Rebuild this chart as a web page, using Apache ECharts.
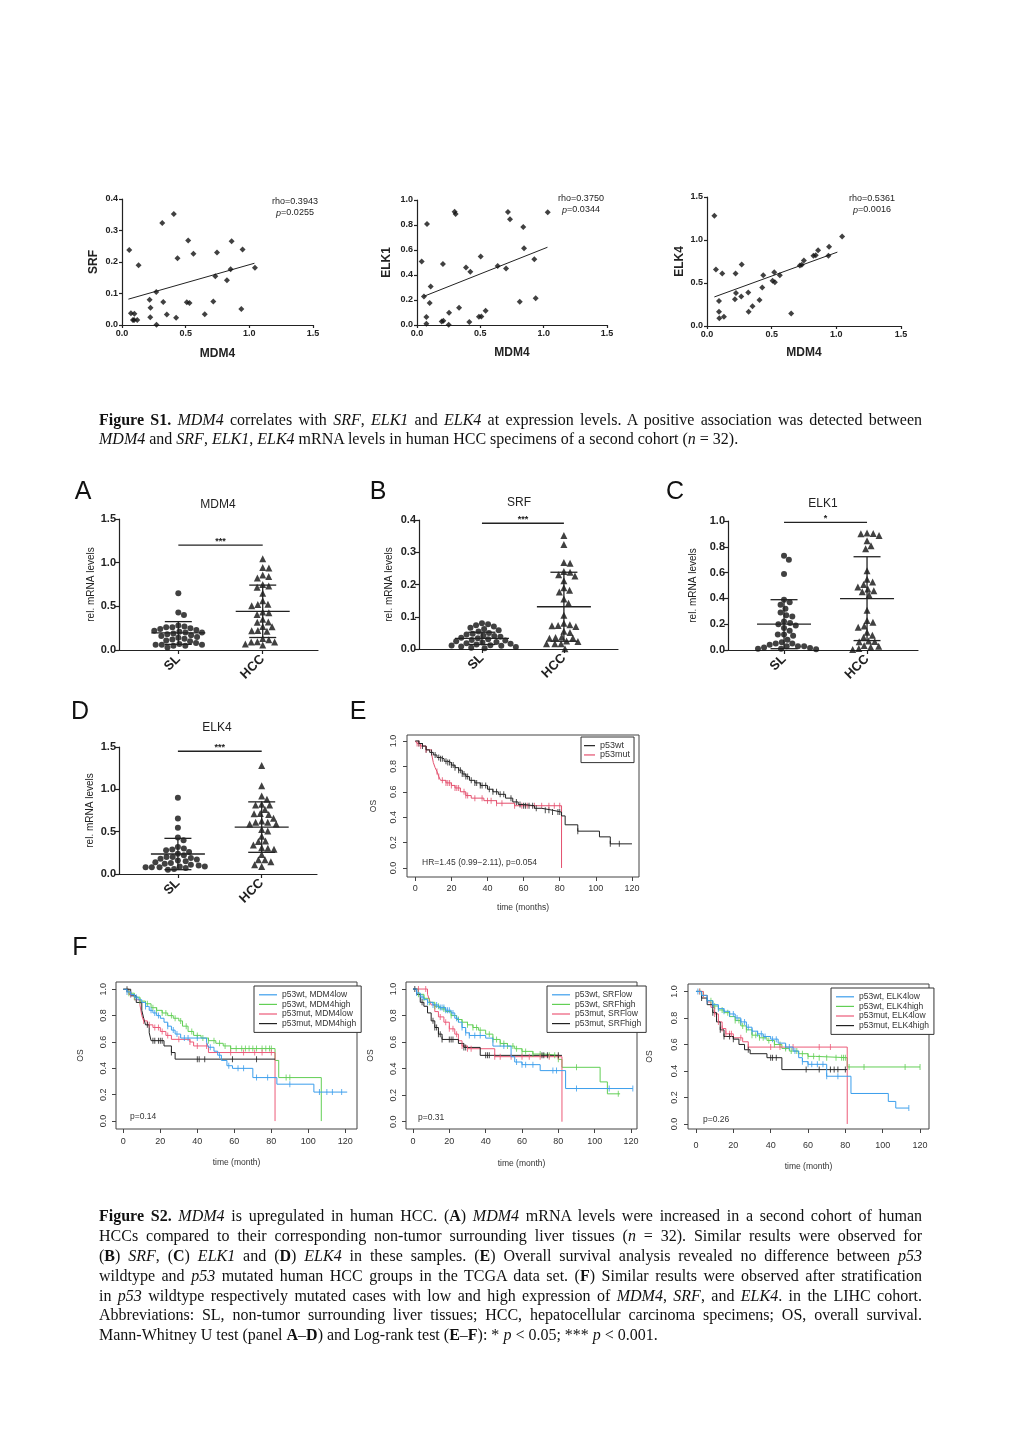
<!DOCTYPE html>
<html><head><meta charset="utf-8">
<script src="https://cdn.jsdelivr.net/npm/echarts@6/dist/echarts.min.js"></script>
<style>
html,body{margin:0;padding:0;background:#fff;}
#chart{position:absolute;left:0;top:0;width:1020px;height:1442px;}
.cap{position:absolute;left:99px;width:823px;font-family:"Liberation Serif","Times New Roman",serif;font-size:16px;color:#111;white-space:nowrap;text-align:justify;text-align-last:justify;line-height:18px;}
.cap.last{text-align-last:left;}
</style></head><body>
<div id="chart"></div>
<div class="cap" style="top:411px"><b>Figure S1.</b> <i>MDM4</i> correlates with <i>SRF</i>, <i>ELK1</i> and <i>ELK4</i> at expression levels. A positive association was detected between</div>
<div class="cap last" style="top:430px"><i>MDM4</i> and <i>SRF</i>, <i>ELK1</i>, <i>ELK4</i> mRNA levels in human HCC specimens of a second cohort (<i>n</i> = 32).</div>
<div class="cap" style="top:1207px"><b>Figure S2.</b> <i>MDM4</i> is upregulated in human HCC. (<b>A</b>) <i>MDM4</i> mRNA levels were increased in a second cohort of human</div>
<div class="cap" style="top:1227px">HCCs compared to their corresponding non-tumor surrounding liver tissues (<i>n</i> = 32). Similar results were observed for</div>
<div class="cap" style="top:1247px">(<b>B</b>) <i>SRF</i>, (<b>C</b>) <i>ELK1</i> and (<b>D</b>) <i>ELK4</i> in these samples. (<b>E</b>) Overall survival analysis revealed no difference between <i>p53</i></div>
<div class="cap" style="top:1267px">wildtype and <i>p53</i> mutated human HCC groups in the TCGA data set. (<b>F</b>) Similar results were observed after stratification</div>
<div class="cap" style="top:1287px">in <i>p53</i> wildtype respectively mutated cases with low and high expression of <i>MDM4</i>, <i>SRF</i>, and <i>ELK4</i>. in the LIHC cohort.</div>
<div class="cap" style="top:1306px">Abbreviations: SL, non-tumor surrounding liver tissues; HCC, hepatocellular carcinoma specimens; OS, overall survival.</div>
<div class="cap last" style="top:1326px">Mann-Whitney U test (panel <b>A</b>–<b>D</b>) and Log-rank test (<b>E</b>–<b>F</b>): * <i>p</i> &lt; 0.05; *** <i>p</i> &lt; 0.001.</div>
<script>
// ================= DATA =================
// Figure S1 scatter (HCC specimens): MDM4 (x) vs SRF / ELK1 / ELK4 (y)
const srfX = [0.057,0.13,0.316,0.407,0.52,0.436,0.561,0.746,0.861,0.947,1.044,0.853,0.733,0.824,0.269,0.217,0.324,0.509,0.53,0.717,0.224,0.07,0.097,0.086,0.12,0.222,0.352,0.425,0.65,0.937,0.271,0.095];
const srfY = [0.238,0.19,0.324,0.352,0.268,0.212,0.226,0.230,0.266,0.240,0.182,0.177,0.155,0.142,0.105,0.080,0.073,0.072,0.070,0.075,0.055,0.037,0.036,0.016,0.016,0.025,0.033,0.023,0.034,0.051,0.001,0.016];
const elk1X = [0.037,0.079,0.055,0.108,0.1,0.074,0.074,0.205,0.195,0.208,0.253,0.25,0.297,0.305,0.332,0.387,0.421,0.413,0.489,0.508,0.503,0.542,0.637,0.703,0.718,0.734,0.811,0.839,0.845,0.926,0.937,1.032];
const elk1Y = [0.508,0.809,0.229,0.309,0.176,0.064,0.011,0.489,0.029,0.035,0.098,0.003,0.907,0.888,0.138,0.46,0.426,0.024,0.066,0.069,0.548,0.114,0.473,0.452,0.904,0.846,0.186,0.785,0.614,0.527,0.215,0.902];
const elk4X = [0.057,0.069,0.118,0.093,0.093,0.095,0.131,0.221,0.268,0.216,0.224,0.265,0.319,0.322,0.352,0.406,0.427,0.435,0.507,0.525,0.52,0.563,0.651,0.718,0.733,0.749,0.823,0.841,0.859,0.939,0.944,1.045];
const elk4Y = [1.282,0.657,0.61,0.291,0.167,0.089,0.109,0.61,0.715,0.311,0.385,0.342,0.389,0.167,0.229,0.303,0.447,0.591,0.525,0.509,0.626,0.591,0.144,0.703,0.711,0.762,0.816,0.824,0.882,0.816,0.921,1.042];
const srfFit = [[0.05,0.082],[1.04,0.196]];
const elk1Fit = [[0.053,0.229],[1.03,0.622]];
const elk4Fit = [[0.057,0.338],[1.008,0.859]];
const rhoText = ['0.3943','0.3750','0.5361'];
const pText = ['0.0255','0.0344','0.0016'];

// Figure S2 A-D: SL (non-tumor) values; HCC values are the same specimens as above
const slMDM4 = [0.65,0.43,0.40,0.28,0.27,0.26,0.26,0.25,0.24,0.23,0.22,0.21,0.20,0.20,0.19,0.18,0.17,0.16,0.15,0.14,0.13,0.12,0.11,0.10,0.08,0.07,0.06,0.06,0.06,0.05,0.05,0.03];
const slSRF = [0.080,0.077,0.074,0.070,0.066,0.062,0.058,0.054,0.050,0.047,0.045,0.042,0.040,0.038,0.035,0.033,0.030,0.028,0.026,0.024,0.022,0.020,0.018,0.016,0.014,0.012,0.011,0.010,0.008,0.006,0.004,0.002];
const slELK1 = [0.73,0.70,0.59,0.39,0.37,0.35,0.32,0.29,0.27,0.26,0.22,0.21,0.20,0.19,0.17,0.15,0.12,0.12,0.11,0.08,0.06,0.05,0.05,0.04,0.03,0.03,0.03,0.02,0.015,0.01,0.01,0.005];
const slELK4 = [0.90,0.656,0.546,0.43,0.40,0.32,0.30,0.29,0.28,0.26,0.24,0.22,0.20,0.20,0.19,0.18,0.17,0.16,0.15,0.14,0.13,0.12,0.11,0.10,0.09,0.09,0.08,0.08,0.08,0.07,0.06,0.05];
const hccMDM4 = elk4X, hccSRF = srfY, hccELK1 = elk1Y, hccELK4 = elk4Y;
const groupLabels = ['SL','HCC'];
const meanA = [0.195,0.443], sdA = [0.13,0.30];
const meanB = [0.033,0.131], sdB = [0.019,0.107];
const meanC = [0.200,0.398], sdC = [0.19,0.325];
const meanD = [0.236,0.554], sdD = [0.185,0.298];
const sigY = [1.2,0.39,0.99,1.45];
const sigText = ['***','***','*','***'];
const dpTitles = ['MDM4','SRF','ELK1','ELK4'];

// Figure S2 E: Kaplan-Meier, [month, survival]
const kmE_wt = [[0,1],[2,0.98],[4,0.96],[6,0.93],[8,0.91],[10,0.89],[12,0.87],[14,0.86],[16,0.84],[18,0.83],[20,0.81],[22,0.79],[24,0.77],[26,0.74],[28,0.72],[30,0.69],[33,0.67],[36,0.65],[40,0.62],[43,0.60],[46,0.58],[50,0.55],[54,0.52],[57,0.50],[60,0.49],[66,0.47],[70,0.455],[76,0.44],[81,0.41],[83,0.34],[90,0.29],[102,0.245],[108,0.19],[120,0.19]];
const kmE_mut = [[0,1],[1,0.98],[3,0.96],[6,0.93],[9,0.90],[10,0.83],[11,0.79],[12,0.76],[13,0.72],[14,0.69],[17,0.67],[20,0.65],[22,0.63],[25,0.60],[28,0.57],[31,0.55],[38,0.53],[45,0.51],[55,0.49],[81,0]];
const censE_wt = [2,4,6,9,11,13,14,15,17,18,19,20,21,22,24,25,26,27,28,29,31,33,34,36,37,39,41,43,45,47,49,53,56,58,60,61,63,65,67,72,74,76,79,80,90,108,113];
const censE_mut = [1,2,3,6,12,13,15,17,18,19,20,22,23,24,27,28,29,33,37,40,42,45,48,55,59,62,66,70,74,77,80];
// F1 (MDM4)
const f1_wtLow = [[0,1],[2,0.98],[4,0.96],[6,0.94],[8,0.92],[10,0.90],[12,0.87],[14,0.84],[16,0.82],[18,0.80],[20,0.78],[22,0.75],[24,0.72],[26,0.69],[28,0.66],[31,0.63],[45,0.60],[46,0.56],[49,0.53],[51,0.50],[53,0.46],[56,0.42],[59,0.40],[70,0.33],[83,0.28],[103,0.22],[121,0.22]];
const f1_wtHigh = [[0,1],[3,0.97],[6,0.94],[9,0.91],[12,0.89],[15,0.86],[18,0.84],[21,0.82],[24,0.80],[27,0.78],[30,0.76],[32,0.72],[35,0.68],[38,0.65],[42,0.63],[46,0.61],[50,0.59],[54,0.57],[58,0.55],[82,0.46],[84,0.33],[107,0]];
const f1_mutLow = [[0,1],[3,0.96],[6,0.92],[9,0.88],[10,0.80],[11,0.76],[13,0.73],[16,0.71],[20,0.68],[23,0.65],[26,0.62],[36,0.60],[38,0.57],[46,0.52],[82,0]];
const f1_mutHigh = [[0,1],[4,0.95],[7,0.90],[10,0.84],[11,0.78],[12,0.73],[14,0.67],[15,0.61],[22,0.57],[26,0.52],[28,0.47],[82,0.47]];
const c1_wtLow = [2,4,7,12,15,17,19,24,27,29,33,35,40,47,52,57,62,65,72,78,90,106,110,113,118];
const c1_wtHigh = [3,6,9,13,16,18,21,23,26,28,31,34,37,40,43,46,49,52,55,58,61,64,66,68,70,72,75,77,79,80,88,90];
const c1_mutLow = [4,11,14,17,19,21,24,30,36,40,45,58,65,71,75,80];
const c1_mutHigh = [2,13,16,17,19,20,21,26,40,41,44,59,72];
// F2 (SRF)
const f2_wtLow = [[0,1],[2,0.97],[4,0.94],[6,0.92],[8,0.90],[11,0.88],[14,0.86],[18,0.84],[21,0.82],[23,0.78],[25,0.75],[27,0.71],[29,0.67],[31,0.65],[40,0.63],[44,0.57],[54,0.49],[56,0.45],[60,0.43],[70,0.385],[84,0.25],[121,0.25]];
const f2_wtHigh = [[0,1],[3,0.96],[6,0.93],[9,0.90],[12,0.87],[15,0.85],[18,0.83],[21,0.80],[24,0.77],[27,0.75],[30,0.73],[33,0.71],[36,0.69],[40,0.66],[44,0.62],[48,0.59],[52,0.57],[56,0.55],[60,0.53],[66,0.51],[72,0.50],[80,0.47],[82,0.41],[103,0.30],[107,0.21],[114,0.21]];
const f2_mutLow = [[0,1],[8,0.96],[9,0.92],[10,0.88],[12,0.83],[14,0.79],[17,0.75],[20,0.70],[23,0.66],[25,0.61],[27,0.57],[30,0.55],[45,0.49],[82,0]];
const f2_mutHigh = [[0,1],[2,0.96],[4,0.90],[6,0.87],[8,0.82],[10,0.76],[12,0.71],[14,0.66],[16,0.62],[25,0.59],[28,0.56],[37,0.50],[82,0.50]];
const c2_wtLow = [2,5,8,11,13,15,16,17,18,19,20,22,24,27,29,31,34,37,50,57,60,62,66,77,79,90,108,121];
const c2_wtHigh = [3,6,9,12,14,17,21,25,27,30,33,35,37,42,44,46,48,50,52,55,57,60,62,66,70,75,78,80,90,113];
const c2_mutLow = [3,7,15,18,20,22,24,27,30,32,45,48,54,60,64,70,75,80];
const c2_mutHigh = [1,5,11,12,13,14,15,16,20,21,22,28,29,40,41,42,71,72,74,80];
// F3 (ELK4)
const f3_wtLow = [[0,1],[3,0.97],[6,0.93],[9,0.90],[12,0.87],[15,0.85],[18,0.83],[21,0.80],[24,0.77],[27,0.73],[30,0.70],[33,0.68],[36,0.66],[40,0.64],[44,0.61],[48,0.58],[52,0.55],[55,0.50],[57,0.47],[60,0.45],[70,0.36],[83,0.23],[103,0.17],[107,0.12],[114,0.12]];
const f3_wtHigh = [[0,1],[3,0.97],[6,0.93],[9,0.89],[12,0.86],[15,0.84],[18,0.81],[21,0.78],[24,0.74],[27,0.71],[30,0.67],[34,0.65],[38,0.63],[42,0.60],[46,0.57],[50,0.55],[55,0.53],[60,0.51],[64,0.50],[81,0.43],[120,0.43]];
const f3_mutLow = [[0,1],[4,0.97],[6,0.92],[8,0.88],[10,0.83],[12,0.77],[14,0.72],[16,0.68],[20,0.65],[25,0.62],[28,0.58],[81,0]];
const f3_mutHigh = [[0,1],[3,0.95],[6,0.90],[9,0.84],[11,0.77],[13,0.71],[15,0.66],[20,0.64],[23,0.60],[26,0.56],[29,0.53],[38,0.50],[46,0.41],[81,0.41]];
const c3_wtLow = [1,3,6,9,12,15,18,20,22,24,26,28,30,33,35,37,41,43,48,50,53,57,60,62,65,68,70,76,114];
const c3_wtHigh = [2,4,8,10,14,17,21,23,25,27,30,32,34,36,39,42,45,48,51,54,57,60,63,66,70,75,78,79,80,82,90,112,120];
const c3_mutLow = [2,4,10,12,14,16,18,19,24,28,40,45,52,66,72];
const c3_mutHigh = [3,9,13,15,18,20,28,40,41,43,59,66,72,74,76,80];
const kmTicksX = [0,20,40,60,80,100,120];
const kmTicksY = [0,0.2,0.4,0.6,0.8,1.0];
const pvals = ['p=0.14','p=0.31','p=0.26'];

// ================= LAYOUT / STYLE =================
const FONT = '"Liberation Sans", Arial, Helvetica, sans-serif';
const AX = '#222';
const grids = [
  {left:122, top:199, width:191, height:126},
  {left:417, top:200, width:190, height:125},
  {left:707, top:197, width:194, height:129},
  {left:119, top:519, width:199, height:131},
  {left:419, top:520, width:199, height:129},
  {left:728, top:521, width:190, height:129},
  {left:119, top:747, width:198, height:127},
  {left:407, top:735, width:232, height:142},
  {left:116, top:982, width:241, height:147},
  {left:406, top:982, width:231, height:147},
  {left:688, top:984, width:241, height:145}
];
grids.forEach((g,i)=>{ if(i>=7){ g.show=true; g.borderColor='#444'; g.borderWidth=1; g.backgroundColor='transparent'; } });

const xAxes=[], yAxes=[], series=[], graphics=[], legends=[];

function prismAxis(g, o){
  return {
    gridIndex:g, type:'value', min:o.min, max:o.max, interval:o.interval,
    name:o.name, nameLocation:'middle', nameGap:o.nameGap,
    nameTextStyle:{fontFamily:FONT, fontSize:o.nameSize, fontWeight:o.nameWeight, color:AX},
    axisLine:{show:true, onZero:false, lineStyle:{color:AX, width:1.2}},
    axisTick:{show:true, length:o.tickLen, customValues:o.custom, lineStyle:{color:AX, width:1.2}},
    axisLabel:{show:true, customValues:o.custom, fontFamily:FONT, fontSize:o.labelSize, fontWeight:'bold', color:AX, margin:o.margin, rotate:o.rotate||0, formatter:o.fmt},
    splitLine:{show:false}
  };
}
const fmt1 = v => (+v).toFixed(1);

// ---- Figure S1 scatter panels ----
const S1 = [
  {g:0, x:srfX, y:srfY, fit:srfFit, ymax:0.4, yint:0.1, yname:'SRF', yGap:22, xGap:23, stat:[295,202]},
  {g:1, x:elk1X, y:elk1Y, fit:elk1Fit, ymax:1.0, yint:0.2, yname:'ELK1', yGap:24, xGap:22, stat:[581,199]},
  {g:2, x:elk4X, y:elk4Y, fit:elk4Fit, ymax:1.5, yint:0.5, yname:'ELK4', yGap:21, xGap:21, stat:[872,199]}
];
S1.forEach((p,k)=>{
  xAxes.push(prismAxis(p.g,{min:0,max:1.5,interval:0.5,name:'MDM4',nameGap:p.xGap,nameSize:12,nameWeight:'bold',tickLen:3,labelSize:9,margin:4,fmt:fmt1}));
  yAxes.push(prismAxis(p.g,{min:0,max:p.ymax,interval:p.yint,name:p.yname,nameGap:p.yGap,nameSize:12,nameWeight:'bold',tickLen:3,labelSize:9,margin:4,fmt:fmt1}));
  series.push({type:'scatter', xAxisIndex:p.g, yAxisIndex:p.g, symbol:'diamond', symbolSize:6, itemStyle:{color:'#111'}, data:p.x.map((v,i)=>[v,p.y[i]]), z:3});
  series.push({type:'line', xAxisIndex:p.g, yAxisIndex:p.g, data:p.fit, symbol:'none', lineStyle:{color:'#222', width:1}, z:2});
  graphics.push({type:'text', x:p.stat[0], y:p.stat[1], style:{text:'rho='+rhoText[k], font:'9px '+FONT, fill:'#222', textAlign:'center', textVerticalAlign:'middle'}});
  graphics.push({type:'text', x:p.stat[0], y:p.stat[1]+11, style:{text:'{i|p}{n|='+pText[k]+'}', textAlign:'center', textVerticalAlign:'middle',
    rich:{i:{fontStyle:'italic', fontSize:9, fontFamily:FONT, fill:'#222'}, n:{fontSize:9, fontFamily:FONT, fill:'#222'}}}});
});

// ---- Figure S2 A-D dot plots ----
function swarm(vals, pxY, d){
  const order = vals.map((v,i)=>i).sort((a,b)=>vals[b]-vals[a]);
  const placed=[], off=[];
  order.forEach(i=>{
    const y = vals[i]*pxY;
    const near = placed.filter(p=>Math.abs(p.y-y)<d);
    const cands=[0];
    near.forEach(p=>{ const dx=Math.sqrt(d*d-(p.y-y)*(p.y-y)); cands.push(p.x+dx, p.x-dx); });
    cands.sort((a,b)=>Math.abs(a)-Math.abs(b));
    let x=0;
    for(const c of cands){ if(near.every(p=>(p.x-c)*(p.x-c)+(p.y-y)*(p.y-y) >= d*d-0.01)){ x=c; break; } }
    placed.push({x,y}); off[i]=x;
  });
  return off;
}
const DP = [
  {g:3, sl:slMDM4, hcc:hccMDM4, mean:meanA, sd:sdA, ymax:1.5, yint:0.5, xr:[0.297,2.655], yGap:23, title:[218,505]},
  {g:4, sl:slSRF,  hcc:hccSRF,  mean:meanB, sd:sdB, ymax:0.4, yint:0.1, xr:[0.232,2.66],  yGap:25, title:[519,503]},
  {g:5, sl:slELK1, hcc:hccELK1, mean:meanC, sd:sdC, ymax:1.0, yint:0.2, xr:[0.325,2.614], yGap:30, title:[823,504]},
  {g:6, sl:slELK4, hcc:hccELK4, mean:meanD, sd:sdD, ymax:1.5, yint:0.5, xr:[0.297,2.66],  yGap:24, title:[217,728]}
];
DP.forEach((p,k)=>{
  const xa = prismAxis(p.g,{min:p.xr[0],max:p.xr[1],custom:[1,2],tickLen:4,labelSize:13,margin:7,rotate:45,fmt:v=>groupLabels[Math.round(v)-1]});
  xAxes.push(xa);
  yAxes.push(prismAxis(p.g,{min:0,max:p.ymax,interval:p.yint,name:'rel. mRNA levels',nameGap:p.yGap,nameSize:10,nameWeight:'normal',tickLen:4,labelSize:11,margin:3,fmt:fmt1}));
  const gr=grids[p.g];
  const pxY = gr.height/p.ymax, pxX = gr.width/(p.xr[1]-p.xr[0]);
  [p.sl,p.hcc].forEach((vals,j)=>{
    const off = swarm(vals, pxY, 6.2);
    series.push({type:'scatter', xAxisIndex:p.g, yAxisIndex:p.g, symbol:j?'triangle':'circle', symbolSize:j?7:6,
      itemStyle:{color:'#111'}, data:vals.map((v,i)=>[j+1+off[i]/pxX, v]), z:3});
  });
  series.push({type:'custom', xAxisIndex:p.g, yAxisIndex:p.g, z:5,
    data:[[1,p.mean[0],p.sd[0]],[2,p.mean[1],p.sd[1]]],
    renderItem:(params,api)=>{
      const x=api.value(0), m=api.value(1), s=api.value(2);
      const c=api.coord([x,m]), t=api.coord([x,m+s]), b=api.coord([x,Math.max(m-s,0)]);
      const st={stroke:'#222', lineWidth:1.3};
      return {type:'group', children:[
        {type:'line', shape:{x1:c[0]-27,y1:c[1],x2:c[0]+27,y2:c[1]}, style:st},
        {type:'line', shape:{x1:c[0],y1:t[1],x2:c[0],y2:b[1]}, style:st},
        {type:'line', shape:{x1:c[0]-13.5,y1:t[1],x2:c[0]+13.5,y2:t[1]}, style:st},
        {type:'line', shape:{x1:c[0]-13.5,y1:b[1],x2:c[0]+13.5,y2:b[1]}, style:st}
      ]};
    }});
  series.push({type:'custom', xAxisIndex:p.g, yAxisIndex:p.g, z:5,
    data:[[sigY[k]]],
    renderItem:(params,api)=>{
      const y=api.value(0);
      const a=api.coord([1,y]), b=api.coord([2,y]);
      return {type:'group', children:[
        {type:'line', shape:{x1:a[0],y1:a[1],x2:b[0],y2:b[1]}, style:{stroke:'#222', lineWidth:1.3}},
        {type:'text', x:(a[0]+b[0])/2, y:a[1]+1, style:{text:sigText[k], font:'bold 9px '+FONT, fill:'#222', textAlign:'center', textVerticalAlign:'bottom'}}
      ]};
    }});
  graphics.push({type:'text', x:p.title[0], y:p.title[1], style:{text:dpTitles[k], font:'12px '+FONT, fill:'#222', textAlign:'center', textVerticalAlign:'middle'}});
});

// ---- Kaplan-Meier panels ----
const BLUE='#3b9eec', GREEN='#62cf55', RED='#ec5a78', BLACK='#222';
function stepVal(curve,t){ let v=curve[0][1]; for(const q of curve){ if(q[0]<=t) v=q[1]; else break; } return v; }
const KM = [
  {g:7, curves:[kmE_wt,kmE_mut], cens:[censE_wt,censE_mut], names:['p53wt','p53mut'], colors:[BLACK,'#e4506e'],
   xr:[-4.58,123.9], yr:[-0.071,1.047], xname:'time (months)', xGap:26, yGap:29, xMargin:7, yMargin:9,
   legend:{left:581, top:737, iw:11, fs:9, lh:9.3, pad:[4,4,3,3]}, note:'HR=1.45 (0.99\u22122.11), p=0.054', notePos:[422,863]},
  {g:8, curves:[f1_wtLow,f1_wtHigh,f1_mutLow,f1_mutHigh], cens:[c1_wtLow,c1_wtHigh,c1_mutLow,c1_mutHigh],
   names:['p53wt, MDM4low','p53wt, MDM4high','p53mut, MDM4low','p53mut, MDM4high'], colors:[BLUE,GREEN,RED,BLACK],
   xr:[-3.95,126.3], yr:[-0.06,1.055], xname:'time (month)', xGap:29, yGap:31, xMargin:8, yMargin:8,
   legend:{left:254, top:986, iw:18, fs:8.5, lh:9.6, pad:[4,5,4,5]}, note:pvals[0], notePos:[130,1117]},
  {g:9, curves:[f2_wtLow,f2_wtHigh,f2_mutLow,f2_mutHigh], cens:[c2_wtLow,c2_wtHigh,c2_mutLow,c2_mutHigh],
   names:['p53wt, SRFlow','p53wt, SRFhigh','p53mut, SRFlow','p53mut, SRFhigh'], colors:[BLUE,GREEN,RED,BLACK],
   xr:[-3.85,123.3], yr:[-0.055,1.053], xname:'time (month)', xGap:30, yGap:31, xMargin:8, yMargin:8,
   legend:{left:547, top:986, iw:18, fs:8.5, lh:9.6, pad:[4,5,4,5]}, note:pvals[1], notePos:[418,1118]},
  {g:10, curves:[f3_wtLow,f3_wtHigh,f3_mutLow,f3_mutHigh], cens:[c3_wtLow,c3_wtHigh,c3_mutLow,c3_mutHigh],
   names:['p53wt, ELK4low','p53wt, ELK4high','p53mut, ELK4low','p53mut, ELK4high'], colors:[BLUE,GREEN,RED,BLACK],
   xr:[-4.28,124.8], yr:[-0.038,1.056], xname:'time (month)', xGap:33, yGap:34, xMargin:12, yMargin:9,
   legend:{left:831, top:988, iw:18, fs:8.5, lh:9.6, pad:[4,5,4,5]}, note:pvals[2], notePos:[703,1120]}
];
KM.forEach(p=>{
  const lab = {fontFamily:FONT, fontSize:9, color:'#333'};
  xAxes.push({gridIndex:p.g, type:'value', min:p.xr[0], max:p.xr[1], name:p.xname, nameLocation:'middle', nameGap:p.xGap,
    nameTextStyle:{fontFamily:FONT, fontSize:8.5, color:'#333'},
    axisLine:{show:false, onZero:false}, axisTick:{show:true, length:4, customValues:kmTicksX, lineStyle:{color:'#444'}},
    axisLabel:Object.assign({customValues:kmTicksX, margin:p.xMargin}, lab), splitLine:{show:false}});
  yAxes.push({gridIndex:p.g, type:'value', min:p.yr[0], max:p.yr[1], name:'OS', nameLocation:'middle', nameGap:p.yGap,
    nameTextStyle:{fontFamily:FONT, fontSize:8.5, color:'#333'},
    axisLine:{show:false, onZero:false}, axisTick:{show:true, length:4, customValues:kmTicksY, lineStyle:{color:'#444'}},
    axisLabel:Object.assign({customValues:kmTicksY, margin:p.yMargin, rotate:90, formatter:fmt1}, lab), splitLine:{show:false}});
  p.curves.forEach((c,k)=>{
    series.push({type:'line', name:p.names[k], xAxisIndex:p.g, yAxisIndex:p.g, data:c, step:'end', symbol:'none',
      lineStyle:{color:p.colors[k], width:1}, itemStyle:{color:p.colors[k]}, z:2+(k===0?1:0)});
    series.push({type:'scatter', xAxisIndex:p.g, yAxisIndex:p.g, symbol:'rect', symbolSize:[1,6],
      itemStyle:{color:p.colors[k]}, data:p.cens[k].map(t=>[t,stepVal(c,t)]), z:2});
  });
  legends.push({data:p.names, orient:'vertical', left:p.legend.left, top:p.legend.top, icon:'rect', itemWidth:p.legend.iw, itemHeight:1.2,
    itemGap:0, padding:p.legend.pad, borderColor:'#333', borderWidth:1, backgroundColor:'#fff', selectedMode:false,
    textStyle:{fontFamily:FONT, fontSize:p.legend.fs, lineHeight:p.legend.lh, color:'#333'}});
  graphics.push({type:'text', x:p.notePos[0], y:p.notePos[1], style:{text:p.note, font:'8.5px '+FONT, fill:'#333', textAlign:'left', textVerticalAlign:'middle'}});
});

// panel letters
[['A',83,492],['B',378,492],['C',675,492],['D',80,712],['E',358,712],['F',80,948]].forEach(l=>{
  graphics.push({type:'text', x:l[1], y:l[2], style:{text:l[0], font:'25px '+FONT, fill:'#111', textAlign:'center', textVerticalAlign:'middle'}});
});

const chart = echarts.init(document.getElementById('chart'), null, {renderer:'canvas', width:1020, height:1442});
chart.setOption({
  backgroundColor:'#fff', animation:false, textStyle:{fontFamily:FONT},
  grid:grids, xAxis:xAxes, yAxis:yAxes, series:series, legend:legends, graphic:graphics
});
</script>
</body></html>
